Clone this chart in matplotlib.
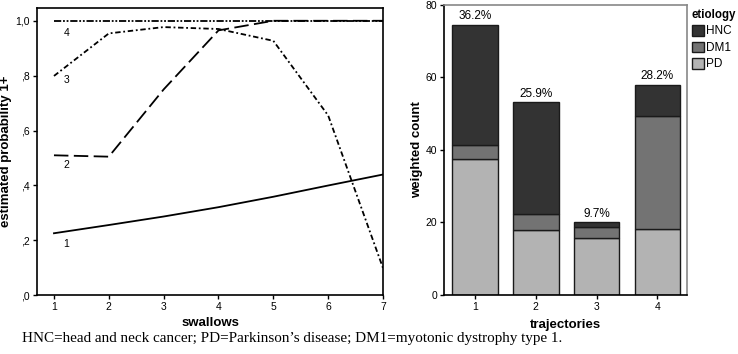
import numpy as np
import matplotlib
matplotlib.use("Agg")
import matplotlib.pyplot as plt
from matplotlib.patches import Patch

plt.rcParams['font.family'] = ['Liberation Sans Narrow', 'Liberation Sans', 'DejaVu Sans']

# left panel: estimated probability per trajectory
swallows = [1, 2, 3, 4, 5, 6, 7]
traj1 = [0.226, 0.256, 0.287, 0.321, 0.359, 0.400, 0.440]
traj2 = [0.510, 0.505, 0.750, 0.965, 1.000, 1.000, 1.000]
traj3 = [0.799, 0.954, 0.977, 0.970, 0.927, 0.655, 0.099]
traj4 = [1.000, 1.000, 1.000, 1.000, 1.000, 1.000, 1.000]
yticks_left = [0.0, 0.2, 0.4, 0.6, 0.8, 1.0]
yticklabels_left = [',0', ',2', ',4', ',6', ',8', '1,0']

# right panel: weighted counts per trajectory
trajectories = [1, 2, 3, 4]
pd_count = [37.4, 17.9, 15.8, 18.1]
dm1_count = [4.0, 4.5, 2.9, 31.3]
hnc_count = [33.1, 30.8, 1.3, 8.6]
pct_labels = ['36.2%', '25.9%', '9.7%', '28.2%']

fig = plt.figure(figsize=(7.38, 3.54), dpi=100)

# ---- left
ax1 = fig.add_axes([0.0501, 0.1658, 0.4689, 0.8112])
ax1.plot(swallows, traj1, color='black', lw=1.3, ls='-')
ax1.plot(swallows, traj2, color='black', lw=1.3, dashes=(8, 3))
ax1.plot(swallows, traj3, color='black', lw=1.3, dashes=(3, 1.5, 1, 1.5))
ax1.plot(swallows, traj4, color='black', lw=1.3, dashes=(4, 1, 1, 1, 1, 1))
for lab, yv in zip(['1', '2', '3', '4'], [0.187, 0.474, 0.784, 0.955]):
    ax1.text(1.23, yv, lab, fontsize=7.5, ha='center', va='center')
ax1.set_xlim(0.69, 7)
ax1.set_ylim(0, 1.046)
ax1.set_xticks(swallows)
ax1.set_xticklabels([str(s) for s in swallows], fontsize=7.5)
ax1.set_yticks(yticks_left)
ax1.set_yticklabels(yticklabels_left, fontsize=7.5)
ax1.tick_params(length=3, width=1, pad=2)
ax1.set_xlabel('swallows', fontsize=9.5, fontweight='bold', family='Liberation Sans', va='center')
ax1.set_ylabel('estimated probability 1+', fontsize=9.5, fontweight='bold', family='Liberation Sans', va='center')
ax1.xaxis.set_label_coords(0.5, -0.0975)
ax1.yaxis.set_label_coords(-0.09, 0.5)
for s in ax1.spines.values():
    s.set_linewidth(1.2)

# ---- right
ax2 = fig.add_axes([0.6016, 0.1667, 0.3297, 0.82])
cols = ['#b3b3b3', '#737373', '#333333']
edge = '#1a1a1a'
ax2.bar(trajectories, pd_count, width=0.75, color=cols[0], edgecolor=edge, lw=1)
ax2.bar(trajectories, dm1_count, width=0.75, bottom=pd_count, color=cols[1], edgecolor=edge, lw=1)
bot = np.array(pd_count) + np.array(dm1_count)
ax2.bar(trajectories, hnc_count, width=0.75, bottom=bot, color=cols[2], edgecolor=edge, lw=1)
tot = bot + np.array(hnc_count)
for x, t, lab in zip(trajectories, tot, pct_labels):
    ax2.text(x, t + 0.6, lab, ha='center', va='bottom', fontsize=8.5)
ax2.set_xlim(0.49, 4.49)
ax2.set_ylim(0, 80)
ax2.set_xticks(trajectories)
ax2.set_xticklabels([str(t) for t in trajectories], fontsize=7.5)
ax2.set_yticks([0, 20, 40, 60, 80])
ax2.set_yticklabels(['0', '20', '40', '60', '80'], fontsize=7.5)
ax2.tick_params(length=3, width=1, pad=2)
ax2.set_xlabel('trajectories', fontsize=9.5, fontweight='bold', family='Liberation Sans', va='center')
ax2.set_ylabel('weighted count', fontsize=9.5, fontweight='bold', family='Liberation Sans', va='center')
ax2.xaxis.set_label_coords(0.5, -0.103)
ax2.yaxis.set_label_coords(-0.112, 0.5)
ax2.spines['left'].set_linewidth(1.2)
ax2.spines['bottom'].set_linewidth(1.2)
ax2.spines['top'].set_color('#888888')
ax2.spines['right'].set_color('#888888')
ax2.spines['top'].set_linewidth(1.2)
ax2.spines['right'].set_linewidth(1.2)

handles = [Patch(facecolor=cols[2], edgecolor=edge), Patch(facecolor=cols[1], edgecolor=edge),
           Patch(facecolor=cols[0], edgecolor=edge)]
leg = fig.legend(handles, ['HNC', 'DM1', 'PD'], title='etiology', loc='upper left',
                 bbox_to_anchor=(692 / 738, 1 - 9 / 354), frameon=False, fontsize=8.5,
                 handlelength=1.0, handleheight=1.0, handletextpad=0.15, labelspacing=0.35,
                 borderpad=0, borderaxespad=0)
leg.get_title().set_fontweight('bold')
leg.get_title().set_fontsize(8.3)
leg.get_title().set_family('Liberation Sans')
leg._legend_box.align = 'left'

fig.text(22 / 738, 1 - 341.7 / 354, 'HNC=head and neck cancer; PD=Parkinson\u2019s disease; DM1=myotonic dystrophy type 1.',
         fontsize=10.9, family='Liberation Serif', ha='left', va='baseline')

fig.savefig('out.png', dpi=100)
